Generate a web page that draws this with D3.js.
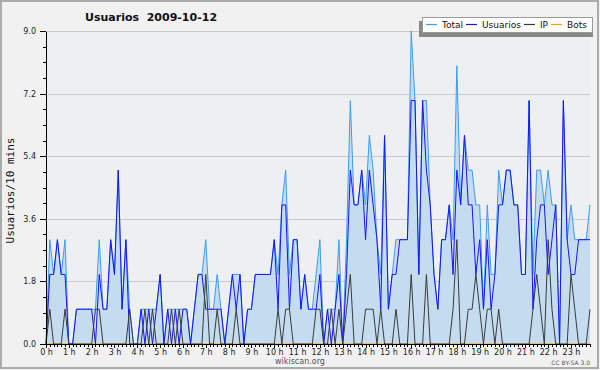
<!DOCTYPE html>
<html>
<head>
<meta charset="utf-8">
<script src="https://cdn.jsdelivr.net/npm/d3@7"></script>
<style>
  body { margin: 0; background: #f1f1f1; }
  svg { display: block; }
  .axis text { font-family: "DejaVu Sans", sans-serif; font-size: 8px; fill: #222; }
  .axis path, .axis line { stroke: #000; shape-rendering: crispEdges; }
</style>
</head>
<body>
<div id="chart"></div>
<script>

// data: one value every 10 minutes, 144 slots (0 h .. 23 h 50)
const usuarios = [0,2,2,3,2,2,0,0,1,1, 1,1,1,0,2,1,1,3,2,5, 1,3,0,0,0,1,0,1,0,1,
	2,0,1,0,1,0,1,1,0,1, 2,2,1,1,1,1,1,0,1,2, 1,2,0,1,1,2,2,2,2,2,
	3,1,4,4,1,3,3,1,2,1, 1,1,2,0,1,0,1,2,0,2, 5,4,4,5,3,5,4,3,1,6,
	1,2,2,3,3,3,7,7,2,7, 5,4,2,1,3,3,4,2,5,4, 6,4,4,2,3,1,3,1,2,4,
	4,5,5,4,4,2,2,7,1,3, 4,4,2,3,4,0,7,3,2,2, 3,3,3,3];
const ip = [0,1,0,0,0,1,0,0,0,0, 0,0,0,1,1,0,0,0,0,0, 0,0,1,0,0,0,1,0,1,0,
	0,0,0,1,0,1,0,0,0,0, 0,0,2,0,0,1,0,0,0,0, 1,0,0,0,0,0,0,0,0,0,
	0,1,0,1,1,0,0,0,0,0, 0,1,1,0,0,1,0,1,0,1, 2,0,0,0,1,1,1,0,1,0,
	0,0,1,0,0,0,2,0,0,0, 2,0,0,0,0,0,0,1,3,0, 0,1,1,2,1,0,1,1,0,1,
	0,0,0,0,0,0,0,0,1,2, 1,0,3,1,0,0,0,0,2,1, 0,0,0,1];
const total = [0,3,2,3,2,3,0,0,1,1, 1,1,1,1,3,1,1,3,2,5, 1,3,1,0,0,1,1,1,1,1,
	2,0,1,1,1,1,1,1,0,1, 2,2,3,1,1,2,1,0,1,2, 2,2,0,1,1,2,2,2,2,2,
	3,2,4,5,2,3,3,1,2,1, 1,2,3,0,1,1,1,3,0,3, 7,4,4,5,4,6,5,3,2,6,
	1,2,3,3,3,3,9,7,2,7, 7,4,2,1,3,3,4,3,8,4, 6,5,5,4,4,1,4,2,2,5,
	4,5,5,4,4,2,2,7,2,5, 5,4,5,4,4,0,7,3,4,3, 3,3,3,4];
const bots = total.map(() => 0);

const yTicks = [0, 1.8, 3.6, 5.4, 7.2, 9.0];
const hours = d3.range(24);

const series = [
	{ name: "Total", color: "#3d9cf2", values: total },
	{ name: "Usuarios", color: "#1414ff", values: usuarios },
	{ name: "IP", color: "#3a3a3a", values: ip },
	{ name: "Bots", color: "#ff9a00", values: bots }
];

const width = 600, height = 370;
const margin = { top: 31, right: 10, bottom: 26, left: 46 };

const svg = d3.select("#chart").append("svg")
	.attr("width", width)
	.attr("height", height);

svg.append("rect")
	.attr("x", 1).attr("y", 1)
	.attr("width", width - 3).attr("height", height - 3)
	.attr("fill", "#f1f1f1")
	.attr("stroke", "#ababab")
	.attr("stroke-width", 2);

const x = d3.scaleLinear()
	.domain([0, total.length - 1])
	.range([margin.left, width - margin.right]);

const y = d3.scaleLinear()
	.domain([0, 9])
	.range([height - margin.bottom, margin.top]);

svg.append("rect")
	.attr("x", margin.left).attr("y", margin.top)
	.attr("width", x.range()[1] - margin.left)
	.attr("height", y(0) - margin.top)
	.attr("fill", "#eeeff1");

// grid
svg.append("g")
	.selectAll("line")
	.data(yTicks.filter(d => d > 0))
	.join("line")
	.attr("x1", margin.left).attr("x2", x.range()[1])
	.attr("y1", d => Math.round(y(d)) + 0.5).attr("y2", d => Math.round(y(d)) + 0.5)
	.attr("stroke", "#c9c9c9");

// area + lines
const area = d3.area()
	.x((d, i) => x(i))
	.y0(y(0))
	.y1(d => y(d));

svg.append("path")
	.datum(total)
	.attr("d", area)
	.attr("fill", "#c5dcf0");

const line = d3.line()
	.x((d, i) => x(i))
	.y(d => y(d));

// bots first so the axis covers it
[series[3], series[0], series[1], series[2]].forEach(s => {
	svg.append("path")
		.datum(s.values)
		.attr("d", line)
		.attr("fill", "none")
		.attr("stroke", s.color)
		.attr("stroke-width", 1);
});

// axes
const yAxis = d3.axisLeft(y)
	.tickValues(yTicks)
	.tickFormat(d3.format(".1f"))
	.tickSize(6)
	.tickSizeOuter(0);

const yMinor = d3.axisLeft(y)
	.tickValues(d3.range(0, 9.01, 0.45))
	.tickFormat("")
	.tickSize(3)
	.tickSizeOuter(0);

svg.append("g")
	.attr("class", "axis")
	.attr("transform", `translate(${margin.left},0)`)
	.call(yMinor);

svg.append("g")
	.attr("class", "axis")
	.attr("transform", `translate(${margin.left},0)`)
	.call(yAxis)
	.call(g => g.selectAll("text").attr("dx", "-1"));

const xMinor = d3.axisBottom(x)
	.tickValues(d3.range(0, total.length))
	.tickFormat("")
	.tickSize(3)
	.tickSizeOuter(0);

const xAxis = d3.axisBottom(x)
	.tickValues(hours.map(h => h * 6))
	.tickFormat(d => `${d / 6} h`)
	.tickSize(4)
	.tickSizeOuter(0);

svg.append("g")
	.attr("class", "axis")
	.attr("transform", `translate(0,${y(0)})`)
	.call(xMinor);

svg.append("g")
	.attr("class", "axis")
	.attr("transform", `translate(0,${y(0)})`)
	.call(xAxis)
	.call(g => g.selectAll("text").attr("dy", "0.55em"));

// titles
svg.append("text")
	.attr("x", 85).attr("y", 21)
	.attr("font-family", "DejaVu Sans, sans-serif")
	.attr("font-weight", "bold")
	.attr("font-size", 11)
	.attr("fill", "#111")
	.attr("xml:space", "preserve")
	.text("Usuarios  2009-10-12");

svg.append("text")
	.attr("transform", `translate(14,${(margin.top + y(0)) / 2 + 3}) rotate(-90)`)
	.attr("text-anchor", "middle")
	.attr("font-family", "DejaVu Sans Mono, monospace")
	.attr("font-size", 11)
	.attr("fill", "#111")
	.text("Usuarios/10 mins");

svg.append("text")
	.attr("x", 300).attr("y", 364)
	.attr("text-anchor", "middle")
	.attr("font-family", "DejaVu Sans, sans-serif")
	.attr("font-size", 8)
	.attr("fill", "#555")
	.text("wikiscan.org");

svg.append("text")
	.attr("x", 590).attr("y", 365)
	.attr("text-anchor", "end")
	.attr("font-family", "DejaVu Sans, sans-serif")
	.attr("font-size", 6)
	.attr("fill", "#555")
	.text("CC BY-SA 3.0");

// legend
const legend = svg.append("g");
legend.append("rect")
	.attr("x", 419).attr("y", 21).attr("width", 174).attr("height", 16)
	.attr("fill", "#888");
legend.append("rect")
	.attr("x", 422.5).attr("y", 17.5).attr("width", 170).attr("height", 15)
	.attr("fill", "#fff").attr("stroke", "#999");

let lx = 426;
series.forEach(s => {
	legend.append("line")
		.attr("x1", lx).attr("x2", lx + 11)
		.attr("y1", 24.5).attr("y2", 24.5)
		.attr("stroke", s.color).attr("stroke-width", 1.2);
	const t = legend.append("text")
		.attr("x", lx + 16).attr("y", 28)
		.attr("font-family", "DejaVu Sans, sans-serif")
		.attr("font-size", 9)
		.attr("fill", "#111")
		.text(s.name);
	lx += 16 + t.node().getComputedTextLength() + 3;
});

</script>
</body>
</html>
